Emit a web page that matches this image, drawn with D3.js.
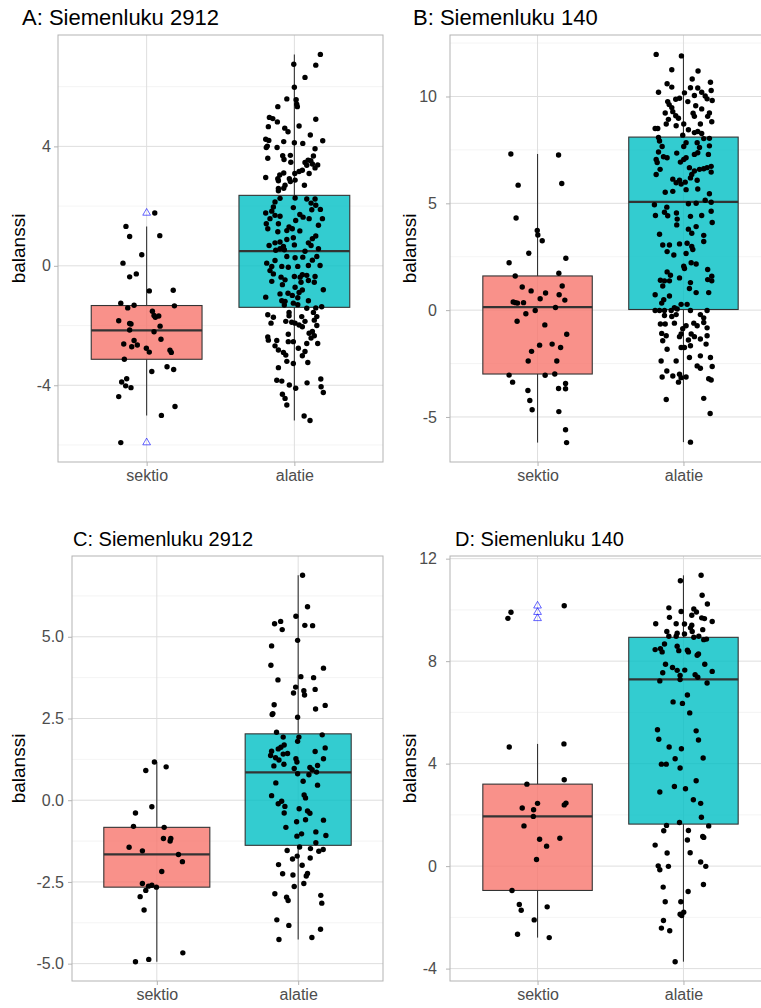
<!DOCTYPE html>
<html>
<head>
<meta charset="utf-8">
<script src="https://cdn.jsdelivr.net/npm/d3@7"></script>
<style>
  body { margin: 0; background: #fff; }
  text { font-family: "Liberation Sans", Arial, Helvetica, sans-serif; }
</style>
</head>
<body>
<svg id="chart" width="761" height="1008"></svg>
<script>
// ---- data ----
const categories = ["sektio", "alatie"];
const panelTitles = ["A: Siemenluku 2912", "B: Siemenluku 140", "C: Siemenluku 2912", "D: Siemenluku 140"];
const yTitle = "balanssi";

// jittered observations: [horizontal jitter (category units), balanssi]
const aSektio = [[0.055,1.77],[-0.14,1.32],[-0.115,0.98],[0.089,1.01],[-0.033,0.37],[-0.16,0.09],[-0.07,-0.27],[-0.115,-0.37],[0.018,-0.84],[0.18,-0.82],[-0.175,-1.25],[-0.085,-1.32],[-0.128,-1.41],[0.188,-1.34],[0.039,-1.52],[0.05,-1.66],[0.082,-1.68],[0.059,-1.72],[-0.189,-1.84],[-0.115,-1.93],[-0.106,-1.95],[0.091,-2.02],[-0.115,-2.15],[0.05,-2.21],[-0.085,-2.5],[0.097,-2.46],[-0.155,-2.62],[-0.063,-2.65],[-0.101,-2.71],[-0.002,-2.76],[0.018,-2.89],[0.158,-2.83],[0.167,-2.9],[-0.151,-3.13],[0.138,-3.38],[0.183,-3.47],[0.035,-3.54],[-0.135,-3.78],[-0.169,-3.89],[-0.142,-4.02],[-0.106,-4.08],[-0.189,-4.38],[0.192,-4.71],[0.1,-5.01],[-0.175,-5.92]];
const aAlatie = [[0.176,7.08],[-0.004,6.75],[0.145,6.72],[0.072,6.31],[0,5.98],[-0.051,5.59],[0.012,5.56],[0.016,5.41],[0.02,5.33],[-0.112,5.33],[-0.169,4.97],[-0.146,4.93],[-0.115,4.82],[-0.176,4.66],[0.145,4.91],[0.032,4.68],[-0.065,4.61],[-0.043,4.49],[0.108,4.38],[-0.194,4.24],[-0.173,4.2],[-0.072,4.16],[0,4.12],[0.057,4.1],[0.192,4.19],[-0.19,3.96],[-0.183,4.01],[-0.117,3.96],[0.14,3.92],[-0.027,3.7],[-0.079,3.69],[0.129,3.68],[-0.18,3.6],[-0.07,3.56],[-0.024,3.47],[0.093,3.54],[0.072,3.46],[0.111,3.52],[0.122,3.41],[0.084,3.37],[0.158,3.38],[0.14,3.28],[0.1,3.09],[0.054,3.2],[0.032,3.16],[0.003,3.09],[-0.072,3.11],[-0.099,3.04],[-0.112,2.92],[-0.194,2.96],[-0.034,2.92],[-0.108,2.85],[0.005,2.87],[-0.027,2.82],[-0.063,2.7],[0.068,2.7],[-0.108,2.59],[-0.072,2.6],[-0.108,2.51],
  [0.005,2.27],[0.084,2.24],[0.14,2.24],[-0.097,2.26],[-0.131,2.14],[-0.142,1.97],[0.113,2.1],[0.145,2.03],[0.176,1.89],[-0.007,1.95],[0.118,1.88],[-0.153,1.83],[-0.194,1.77],[0.037,1.72],[0.059,1.63],[-0.131,1.69],[-0.097,1.66],[0.1,1.58],[0.19,1.58],[0.009,1.52],[-0.165,1.58],[-0.19,1.41],[-0.108,1.41],[0.163,1.36],[-0.036,1.3],[-0.014,1.24],[-0.18,1.24],[0.037,1.17],[-0.051,1.18],[-0.112,1.14],[0.145,1.0],[0.122,0.91],[-0.007,0.94],[-0.051,0.88],[-0.097,0.8],[-0.131,0.77],[-0.171,0.68],[-0.074,0.65],[0,0.7],[0.095,0.77],[0.113,0.68],
  [-0.097,0.57],[-0.068,0.54],[0.072,0.49],[0.163,0.57],[-0.126,0.52],
  [-0.187,0.09],[-0.131,0.18],[-0.051,0.31],[0.005,0.27],[0.057,0.29],[0.122,0.19],[0.152,0.31],[-0.153,-0.02],[-0.085,-0.02],[-0.041,-0.05],[0.023,-0.02],[0.095,0.01],[0.174,0.01],[-0.165,-0.16],[-0.142,-0.27],[0.054,-0.3],[-0.09,-0.38],[-0.063,-0.47],[0,-0.36],[0.039,-0.38],[0.084,-0.32],[0.14,-0.36],[-0.153,-0.52],[-0.081,-0.63],[0.095,-0.49],[0.135,-0.55],[0.045,-0.55],[0.005,-0.72],[0.196,-0.8],[0.054,-0.81],[0.032,-0.89],[-0.097,-0.94],[-0.043,-0.92],[-0.014,-0.99],[-0.194,-1.05],[0.023,-1.07],[-0.085,-1.17],[-0.063,-1.19],[0.095,-1.17],[-0.007,-1.25],[-0.068,-1.31],[0.023,-1.3],
  [0.185,-1.37],[0.145,-1.41],[0.084,-1.42],[0.129,-1.56],[-0.036,-1.56],[-0.18,-1.64],[-0.036,-1.67],[-0.142,-1.72],[0.05,-1.7],[0.152,-1.7],[0.135,-1.82],[-0.158,-1.92],[-0.058,-1.86],[-0.018,-1.89],[0.005,-1.92],[0.072,-1.86],[0.032,-1.98],[0.054,-2.04],[0.152,-2.0],[0.122,-2.2],[0.1,-2.26],[-0.041,-2.29],[0.135,-2.34],[-0.18,-2.38],[0.113,-2.42],[-0.176,-2.49],[-0.119,-2.5],[-0.041,-2.54],[-0.007,-2.54],[0.158,-2.6],[0.084,-2.6],[-0.131,-2.68],[-0.108,-2.82],[0.027,-2.76],[0.072,-2.87],[-0.074,-2.9],[-0.058,-2.99],[0.054,-3.01],[-0.051,-3.2],[-0.007,-3.27],[0.091,-3.24],[-0.108,-3.41],[-0.119,-3.83],[-0.085,-3.86],[-0.034,-3.99],[0.009,-4.1],[0.086,-3.92],[0.179,-3.79],[0.181,-4.05],[0.196,-4.24],[-0.081,-4.3],[-0.063,-4.44],[-0.051,-4.66],[0.066,-5.03],[0.106,-5.18]];

const bSektio = [[-0.183,7.31],[0.144,7.26],[-0.133,5.85],[0.166,5.93],[-0.147,4.31],[-0.002,3.73],[0.002,3.52],[0.032,3.25],[-0.06,2.66],[0.194,2.43],[-0.195,2.22],[0.146,1.73],[-0.153,1.6],[0.169,1.13],[-0.105,1.08],[-0.044,0.9],[0.055,0.8],[0.148,0.72],[0.018,0.53],[0.187,0.47],[-0.167,0.38],[-0.151,0.35],[-0.137,0.33],[-0.096,0.35],[0.123,0.12],[-0.016,-0.02],[-0.08,-0.17],[-0.14,-0.52],[0.05,-0.69],[0.2,-1.13],[0.014,-1.64],[0.1,-1.59],[0.158,-1.75],[-0.041,-1.93],[-0.064,-2.38],[0.132,-2.38],[-0.195,-3.04],[0.052,-3.05],[0.118,-2.99],[-0.171,-3.37],[0.192,-3.43],[0.144,-3.67],[0.192,-3.68],[-0.066,-3.76],[-0.053,-4.23],[-0.037,-4.66],[0.146,-4.75],[0.192,-5.6],[0.199,-6.2]];
const bAlatie = [[-0.187,11.97],[-0.014,11.9],[-0.08,11.25],[0.1,11.19],[0.06,10.82],[0.185,10.67],[-0.112,10.6],[-0.08,10.44],[0.048,10.41],[0.098,10.4],[-0.171,10.2],[0.19,10.28],[0.125,10.2],[0.007,10.17],[0.075,10.05],[0.149,10.02],[-0.027,9.92],[-0.053,9.87],[-0.108,9.76],[0.03,9.76],[0.197,9.81],[0.162,9.89],[-0.098,9.62],[0.084,9.57],[-0.08,9.48],[0.125,9.42],[-0.073,9.29],[-0.125,9.23],[0.066,9.22],[0.178,9.23],[-0.053,9.1],[0.166,9.07],[0.075,9.07],[-0.034,8.98],[-0.103,8.93],[0.194,8.82],[-0.118,8.71],[0.002,8.71],[-0.05,8.63],[0.116,8.71],[-0.176,8.5],[-0.194,8.5],[0.034,8.44],[0.098,8.36],[0.075,8.31],[0.125,8.27],[-0.005,8.19],[-0.171,8.08],[0.139,8.03],[0.178,8.04],
  [0.018,7.84],[0.094,7.84],[-0.164,7.92],[-0.146,7.66],[0.002,7.66],[0.11,7.61],[0.178,7.69],[-0.171,7.4],[-0.046,7.35],[0.075,7.29],[0.098,7.37],[0.171,7.29],[-0.137,7.18],[-0.112,7.13],[-0.187,7.05],[0.018,7.13],[-0.021,6.93],[0.002,7.05],[-0.18,6.91],[0.041,6.67],[-0.16,6.59],[0.11,6.59],[0.139,6.62],[0.075,6.51],[0.162,6.67],[0.19,6.73],[-0.187,6.35],[0.057,6.35],[0.19,6.46],[0.048,6.19],[0.094,6.08],[-0.073,6.13],[-0.027,6.08],[-0.05,5.96],[0.012,5.99],[-0.016,5.9],[-0.125,5.52],[-0.073,5.56],[0.018,5.64],[0.098,5.67],[0.178,5.45],[0.149,5.14],[0.19,5.05],
  [0.034,4.98],[0.087,5.0],[-0.199,4.93],[-0.114,4.82],[-0.13,4.58],[-0.108,4.42],[-0.192,4.43],[-0.048,4.55],[0.048,4.39],[0.125,4.43],[0.19,4.63],[-0.043,4.26],[-0.046,3.99],[0.197,4.1],[0.087,3.91],[0.034,3.79],[0.057,3.6],[-0.164,3.55],[0.139,3.5],[0.139,3.21],[-0.142,3.05],[-0.096,3.05],[-0.027,3.1],[0.025,3.13],[0.057,2.98],
  [-0.112,2.74],[-0.066,2.58],[0.018,2.65],[0.064,2.84],[0.053,2.22],[0.087,2.16],[0.002,2.06],[0.007,1.95],[0.166,1.9],[-0.112,1.79],[-0.089,1.63],[0.194,1.59],[-0.027,1.51],[-0.158,1.4],[-0.13,1.37],[-0.096,1.37],[0.166,1.43],[0.194,1.37],[0.048,1.29],[-0.142,1.13],[0.041,1.01],[0.087,0.82],[0.173,0.82],[-0.194,0.72],[-0.096,0.66],[-0.135,0.49],[-0.149,0.33],[-0.016,0.27],[0.025,0.27],[-0.062,0.11],
  [-0.194,-0.02],[-0.164,-0.02],[-0.13,-0.02],[-0.084,-0.02],[-0.043,0.05],[0.048,-0.02],[0.162,-0.02],[-0.13,-0.25],[-0.08,-0.3],[-0.05,-0.21],[0.116,-0.21],[0.139,-0.36],[-0.158,-0.65],[-0.125,-0.65],[-0.062,-0.61],[0.018,-0.73],[0.071,-0.61],[0.094,-0.73],[0.139,-0.58],[0.162,-0.83],[-0.005,-0.87],[-0.016,-1.12],[-0.149,-1.09],[-0.118,-1.2],[-0.027,-1.24],[0.053,-1.12],[0.075,-1.24],[0.162,-1.2],[0.034,-1.4],[-0.142,-1.43],[0.116,-1.35],[0.155,-1.59],[0.048,-1.67],[-0.016,-1.75],[0.007,-1.75],[-0.112,-1.83],[0.041,-2.22],[0.116,-2.14],[0.185,-2.22],[-0.153,-2.38],[-0.05,-2.38],[0.094,-2.61],[0.116,-2.72],[0.197,-2.64],[-0.114,-2.85],[-0.073,-3.08],[-0.146,-3.13],[-0.027,-3.0],[-0.016,-3.16],[0.018,-3.13],[-0.034,-3.37],[0.173,-3.21],[0.19,-3.27],[-0.118,-4.18],[0.139,-4.13],[0.183,-4.84],[0.048,-6.18]];

const cSektio = [[-0.017,1.17],[-0.078,0.91],[0.066,1.02],[-0.035,-0.2],[-0.151,-0.39],[-0.165,-0.8],[0.052,-0.83],[0.047,-1.17],[0.099,-1.17],[0.094,-1.25],[-0.196,-1.44],[-0.102,-1.55],[0.153,-1.66],[0.181,-1.88],[0.035,-2.18],[-0.102,-2.55],[-0.059,-2.63],[-0.035,-2.6],[-0.003,-2.66],[-0.078,-2.76],[-0.118,-2.95],[-0.09,-3.36],[0.184,-4.67],[-0.057,-4.87],[-0.151,-4.94]];
const cAlatie = [[0.031,6.88],[0.066,5.92],[-0.016,5.63],[-0.124,5.47],[-0.167,5.4],[0.047,5.35],[0.102,5.34],[-0.113,5.22],[-0.004,4.89],[-0.188,4.72],[-0.193,4.13],[0.179,4.04],[0.019,3.78],[0.109,3.75],[-0.143,3.68],[-0.018,3.46],[0.12,3.39],[0.04,3.35],[-0.033,3.28],[0.045,3.22],[-0.17,2.92],[0.191,2.9],[-0.179,2.65],[-0.184,2.62],[0.123,2.79],[-0.004,2.54],
  [-0.153,2.08],[0.17,2.0],[-0.106,1.93],[0.005,1.93],[-0.004,1.8],[-0.099,1.69],[-0.122,1.62],[-0.141,1.57],[0.191,1.6],[-0.188,1.5],[0.12,1.49],[-0.075,1.43],[-0.106,1.41],[-0.195,1.37],[-0.16,1.3],[-0.136,1.23],[-0.016,1.27],[-0.009,1.17],[0.179,1.27],[-0.172,1.05],[-0.101,1.1],[0.137,1.06],[-0.028,0.97],[0.083,1.0],[0.099,0.93],[0.13,0.86],[-0.004,0.81],[0.076,0.78],
  [0.035,0.58],[-0.158,0.53],[0.137,0.46],[-0.188,0.14],[0.042,0.16],[0.052,0.07],[-0.117,-0.03],[-0.141,-0.11],[-0.094,-0.19],[0.007,-0.26],[-0.099,-0.39],[0.066,-0.33],[0.083,-0.4],[0.179,-0.61],[-0.011,-0.66],[0.052,-0.6],[-0.087,-0.83],[0.125,-0.97],[0.024,-1.03],[-0.009,-1.1],[0.196,-1.08],[0.125,-1.3],
  [0.01,-1.43],[0.087,-1.48],[0.146,-1.56],[0.177,-1.51],[-0.078,-1.54],[-0.007,-1.71],[-0.04,-1.8],[0.085,-1.77],[-0.139,-1.97],[0.028,-1.99],[-0.11,-2.25],[-0.037,-2.29],[0.066,-2.24],[0.057,-2.32],[0.04,-2.55],[-0.028,-2.64],[-0.165,-2.86],[-0.082,-2.97],[-0.071,-3.07],[0.16,-2.91],[0.167,-3.15],[-0.151,-3.66],[-0.066,-3.83],[0.158,-3.95],[-0.136,-4.26],[0.097,-4.2]];

const dSektio = [[0.183,10.16],[-0.182,9.91],[-0.203,9.67],[-0.194,4.65],[0.181,4.77],[0.183,3.37],[-0.073,3.2],[0.0,2.45],[0.195,2.46],[0.183,2.39],[-0.105,2.27],[-0.027,2.2],[-0.029,1.94],[-0.093,1.57],[0.153,1.09],[0.014,1.05],[0.062,0.78],[-0.007,0.26],[-0.175,-0.95],[-0.125,-1.5],[-0.112,-1.72],[0.066,-1.59],[-0.023,-2.1],[-0.137,-2.66],[0.08,-2.79]];
const dAlatie = [[0.121,11.35],[-0.021,11.14],[0.128,10.57],[0.164,10.23],[-0.1,10.08],[0.071,10.04],[0.089,9.92],[-0.016,9.94],[0.057,9.79],[-0.096,9.71],[0.125,9.69],[0.144,9.66],[0.197,9.55],[-0.19,9.46],[-0.05,9.46],[0.007,9.45],[0.057,9.4],[0.048,9.3],[0.132,9.23],[-0.114,9.16],[-0.043,9.09],[0.007,9.06],[0.06,9.16],[-0.1,8.97],[-0.05,8.97],[0.071,8.93],[0.105,8.97],[0.139,8.84],[0.158,8.86],
  [-0.13,8.67],[-0.043,8.58],[-0.032,8.41],[-0.194,8.45],[-0.158,8.49],[-0.146,8.36],[0.027,8.43],[0.034,8.36],[0.103,8.28],[0.094,8.23],[-0.123,7.88],[0.146,7.88],[-0.075,7.75],[-0.043,7.64],[0.009,7.65],[0.197,7.6],[-0.142,7.55],[0.08,7.47],[-0.023,7.44],[0.098,7.37],[-0.023,7.28],[-0.162,7.23],[0.162,7.15],
  [0.027,6.68],[-0.071,6.41],[-0.007,6.35],[0.043,5.98],[-0.178,5.32],[0.087,5.28],[-0.169,4.95],[0.103,4.92],[-0.098,4.65],[-0.014,4.58],[0.135,4.22],[-0.057,4.19],[-0.151,3.98],[-0.118,3.98],[-0.023,3.83],[0.087,3.33],[-0.062,3.11],[0.014,3.02],
  [-0.162,2.89],[0.068,2.59],[0.118,2.45],[0.123,1.91],[-0.027,1.7],[-0.116,1.59],[0.173,1.57],[-0.135,1.38],[0.034,1.39],[0.132,1.16],[0.139,1.12],[0.027,1.02],[-0.194,0.82],[-0.112,0.51],[0.046,0.52],[-0.173,0.01],[-0.162,-0.14],[-0.103,-0.01],[0.118,0.16],[0.153,-0.01],[-0.139,-0.82],[0.137,-0.72],[0.032,-0.99],[-0.125,-1.39],[-0.018,-1.39],[0.002,-1.8],[-0.023,-1.88],[-0.012,-1.93],[-0.137,-2.12],[-0.151,-2.42],[-0.094,-2.52],[-0.057,-3.73]];

// box summaries: [lower whisker, Q1, median, Q3, upper whisker]
const aSektioBox = [-5.01, -3.13, -2.16, -1.33, 1.32];
const aAlatieBox = [-5.18, -1.39, 0.49, 2.36, 7.08];
const bSektioBox = [-6.2, -2.99, 0.14, 1.6, 7.31];
const bAlatieBox = [-6.18, 0.03, 5.07, 8.1, 11.97];
const cSektioBox = [-4.94, -2.66, -1.66, -0.83, 1.17];
const cAlatieBox = [-4.26, -1.38, 0.85, 2.03, 6.88];
const dSektioBox = [-2.79, -0.95, 1.94, 3.2, 4.77];
const dAlatieBox = [-3.73, 1.64, 7.29, 8.93, 11.35];

// outliers flagged by the boxplot
const aSektioOut = [1.77, -5.92];
const dSektioOut = [10.16, 9.91, 9.67];

// axis breaks
const aTicks = [-4, 0, 4], aTickLabels = ["-4", "0", "4"], aMinor = [-6, -2, 2, 6];
const bTicks = [-5, 0, 5, 10], bTickLabels = ["-5", "0", "5", "10"], bMinor = [-2.5, 2.5, 7.5, 12.5];
const cTicks = [-5, -2.5, 0, 2.5, 5], cTickLabels = ["-5.0", "-2.5", "0.0", "2.5", "5.0"], cMinor = [-3.75, -1.25, 1.25, 3.75, 6.25];
const dTicks = [-4, 0, 4, 8, 12], dTickLabels = ["-4", "0", "4", "8", "12"], dMinor = [-2, 2, 6, 10];

const fills = ["#F8766D", "#00BFC4"];

// ---- layout ----
const panels = [
  { title: panelTitles[0], groups: [aSektio, aAlatie], boxes: [aSektioBox, aAlatieBox], outliers: [aSektioOut, []],
    ticks: aTicks, labels: aTickLabels, minor: aMinor, x0: 58, x1: 383, y0: 35, y1: 462,
    titleX: 22, titleSize: 22, yTitleX: 18, gap: 7 },
  { title: panelTitles[1], groups: [bSektio, bAlatie], boxes: [bSektioBox, bAlatieBox], outliers: [[], []],
    ticks: bTicks, labels: bTickLabels, minor: bMinor, x0: 450, x1: 771, y0: 35, y1: 462,
    titleX: 413, titleSize: 22, yTitleX: 409, gap: 13 },
  { title: panelTitles[2], groups: [cSektio, cAlatie], boxes: [cSektioBox, cAlatieBox], outliers: [[], []],
    ticks: cTicks, labels: cTickLabels, minor: cMinor, x0: 72, x1: 383, y0: 556, y1: 981,
    titleX: 73, titleSize: 20, yTitleX: 18, gap: 8 },
  { title: panelTitles[3], groups: [dSektio, dAlatie], boxes: [dSektioBox, dAlatieBox], outliers: [dSektioOut, []],
    ticks: dTicks, labels: dTickLabels, minor: dMinor, x0: 450, x1: 771, y0: 556, y1: 981,
    titleX: 455, titleSize: 20, yTitleX: 409, gap: 13 }
];

const svg = d3.select("#chart");
svg.append("rect").attr("width", 761).attr("height", 1008).attr("fill", "#fff");

panels.forEach(p => {
  const g = svg.append("g");
  const allVals = p.groups.flat().map(d => d[1]);
  const [mn, mx] = d3.extent(allVals);
  const pad = (mx - mn) * 0.05;
  const y = d3.scaleLinear().domain([mn - pad, mx + pad]).range([p.y1, p.y0]);
  const x = d3.scaleLinear().domain([0.4, 2.6]).range([p.x0, p.x1]);

  // grid
  g.selectAll(".minor").data(p.minor).join("line")
    .attr("x1", p.x0).attr("x2", p.x1).attr("y1", d => y(d)).attr("y2", d => y(d))
    .attr("stroke", "#EDEDED").attr("stroke-width", 0.6);
  g.selectAll(".major").data(p.ticks).join("line")
    .attr("x1", p.x0).attr("x2", p.x1).attr("y1", d => y(d)).attr("y2", d => y(d))
    .attr("stroke", "#DEDEDE").attr("stroke-width", 1);
  g.selectAll(".vmajor").data([1, 2]).join("line")
    .attr("x1", d => x(d)).attr("x2", d => x(d)).attr("y1", p.y0).attr("y2", p.y1)
    .attr("stroke", "#DEDEDE").attr("stroke-width", 1);

  // boxplots
  p.boxes.forEach((b, i) => {
    const cx = x(i + 1), hw = (x(1.375) - x(1));
    g.append("line").attr("x1", cx).attr("x2", cx).attr("y1", y(b[4])).attr("y2", y(b[3]))
      .attr("stroke", "#333").attr("stroke-width", 1.1);
    g.append("line").attr("x1", cx).attr("x2", cx).attr("y1", y(b[1])).attr("y2", y(b[0]))
      .attr("stroke", "#333").attr("stroke-width", 1.1);
    g.append("rect").attr("x", cx - hw).attr("width", 2 * hw)
      .attr("y", y(b[3])).attr("height", y(b[1]) - y(b[3]))
      .attr("fill", fills[i]).attr("fill-opacity", 0.8)
      .attr("stroke", "#333").attr("stroke-width", 1.1);
    g.append("line").attr("x1", cx - hw).attr("x2", cx + hw).attr("y1", y(b[2])).attr("y2", y(b[2]))
      .attr("stroke", "#333").attr("stroke-width", 2.2);
    g.selectAll(null).data(p.outliers[i]).join("path")
      .attr("d", d3.symbol(d3.symbolTriangle, 26))
      .attr("transform", d => `translate(${cx},${y(d)})`)
      .attr("fill", "none").attr("stroke", "#0000FF").attr("stroke-opacity", 0.6).attr("stroke-width", 1);
  });

  // jittered points
  p.groups.forEach((pts, i) => {
    g.selectAll(null).data(pts).join("circle")
      .attr("cx", d => x(i + 1 + d[0])).attr("cy", d => y(d[1])).attr("r", 2.7)
      .attr("fill", "#000");
  });

  // panel border
  g.append("rect").attr("x", p.x0).attr("y", p.y0).attr("width", p.x1 - p.x0).attr("height", p.y1 - p.y0)
    .attr("fill", "none").attr("stroke", "#B3B3B3").attr("stroke-width", 1);

  // axes
  const ay = g.append("g").attr("transform", `translate(${p.x0},0)`)
    .call(d3.axisLeft(y).tickValues(p.ticks).tickFormat((d, i) => p.labels[i]).tickSize(4).tickPadding(p.gap - 4));
  const ax = g.append("g").attr("transform", `translate(0,${p.y1})`)
    .call(d3.axisBottom(x).tickValues([1, 2]).tickFormat(d => categories[d - 1]).tickSize(4).tickPadding(4));
  [ay, ax].forEach(a => {
    a.select(".domain").remove();
    a.selectAll(".tick line").attr("stroke", "#B3B3B3");
    a.selectAll(".tick text").attr("fill", "#4D4D4D").style("font-size", "16px")
      .style("font-family", "'Liberation Sans', Arial, sans-serif");
  });

  // titles
  g.append("text").attr("x", p.titleX).attr("y", p.y0 - 10).text(p.title)
    .style("font-size", p.titleSize + "px").attr("fill", "#000");
  g.append("text").attr("transform", `translate(${p.yTitleX + 7},${(p.y0 + p.y1) / 2}) rotate(-90)`)
    .attr("text-anchor", "middle").text(yTitle).style("font-size", "19px").attr("fill", "#000");
});
</script>
</body>
</html>
